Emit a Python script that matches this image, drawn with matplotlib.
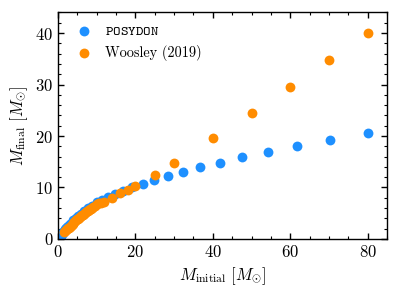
import numpy as np
import matplotlib
matplotlib.use("Agg")
import matplotlib.pyplot as plt
from matplotlib.ticker import MultipleLocator

plt.rcParams["font.family"] = "serif"
plt.rcParams["font.serif"] = ["cmr10"]
plt.rcParams["mathtext.fontset"] = "cm"
plt.rcParams["axes.unicode_minus"] = False
plt.rcParams["axes.formatter.use_mathtext"] = True
plt.rcParams["font.size"] = 12

# POSYDON grid (initial mass, final mass)
posydon_mi = [80, 70.2, 61.7, 54.2, 47.6, 41.8, 36.7, 32.3, 28.4, 24.9, 21.9,
              19.2, 16.9, 14.8, 13.0, 11.4, 10.0, 8.8, 7.7, 6.8, 6.0, 5.2,
              4.6, 4.0, 3.5, 3.1, 2.7, 2.4, 2.1, 1.85, 1.6, 1.4, 1.25, 1.1,
              0.95, 0.84, 0.74, 0.65, 0.57, 0.5]
posydon_mf = [20.5, 19.3, 18.1, 16.8, 15.9, 14.8, 14.0, 13.1, 12.2, 11.45, 10.7,
              10.1, 9.4, 8.8, 8.2, 7.6, 7.1, 6.5, 6.0, 5.4, 4.9, 4.4,
              4.0, 3.6, 3.2, 2.9, 2.6, 2.3, 2.1, 1.85, 1.6, 1.4, 1.25, 1.1,
              0.95, 0.84, 0.74, 0.65, 0.57, 0.5]

# Woosley (2019)
woosley_mi = [1.5, 1.75, 2.0, 2.25, 2.5, 2.75, 3.0, 3.25, 3.5, 3.75, 4.0, 4.25,
              4.5, 4.75, 5.0, 5.25, 5.5, 5.75, 6.0, 6.25, 6.5, 6.75, 7.0, 7.25,
              7.5, 7.75, 8.0, 8.25, 8.5, 8.75, 9.0, 9.5, 10.0, 10.5, 11.0,
              12, 14, 16, 18, 20, 25, 30, 40, 50, 60, 70, 80]
woosley_mf = [1.35, 1.52, 1.7, 1.88, 2.05, 2.22, 2.4, 2.58, 2.75, 2.92, 3.1, 3.28,
              3.45, 3.62, 3.8, 3.95, 4.1, 4.28, 4.45, 4.6, 4.75, 4.9, 5.05, 5.2,
              5.35, 5.5, 5.65, 5.78, 5.9, 6.05, 6.2, 6.45, 6.7, 6.9, 7.05,
              7.25, 8.05, 8.85, 9.6, 10.3, 12.45, 14.75, 19.55, 24.5, 29.5, 34.7, 40.0]

fig = plt.figure(figsize=(3.99, 2.96), dpi=100)
ax = fig.add_axes([0.1454, 0.1926, 0.8246, 0.7654])

ax.scatter(posydon_mi, posydon_mf, s=50, color="#1E90FF", lw=0,
           label=r"$\mathtt{POSYDON}$", zorder=2)
ax.scatter(woosley_mi, woosley_mf, s=50, color="#FF8C00", lw=0,
           label="Woosley (2019)", zorder=3)

ax.set_xlim(0, 85)
ax.set_ylim(0, 44)
ax.xaxis.set_major_locator(MultipleLocator(20))
ax.xaxis.set_minor_locator(MultipleLocator(5))
ax.yaxis.set_major_locator(MultipleLocator(10))
ax.yaxis.set_minor_locator(MultipleLocator(2))
ax.tick_params(which="both", direction="in", top=True, right=True)
ax.tick_params(which="major", length=4, width=1, labelsize=12)
ax.tick_params(which="minor", length=2.5, width=0.8)
for sp in ax.spines.values():
    sp.set_linewidth(1)

ax.set_xlabel(r"$M_{\rm initial}\ [M_{\odot}]$", fontsize=12)
ax.set_ylabel(r"$M_{\rm final}\ [M_{\odot}]$", fontsize=12)
ax.legend(loc="upper left", frameon=False, fontsize=10.3, handletextpad=0.5,
          borderaxespad=0.4)

fig.savefig("out.png", dpi=100)
